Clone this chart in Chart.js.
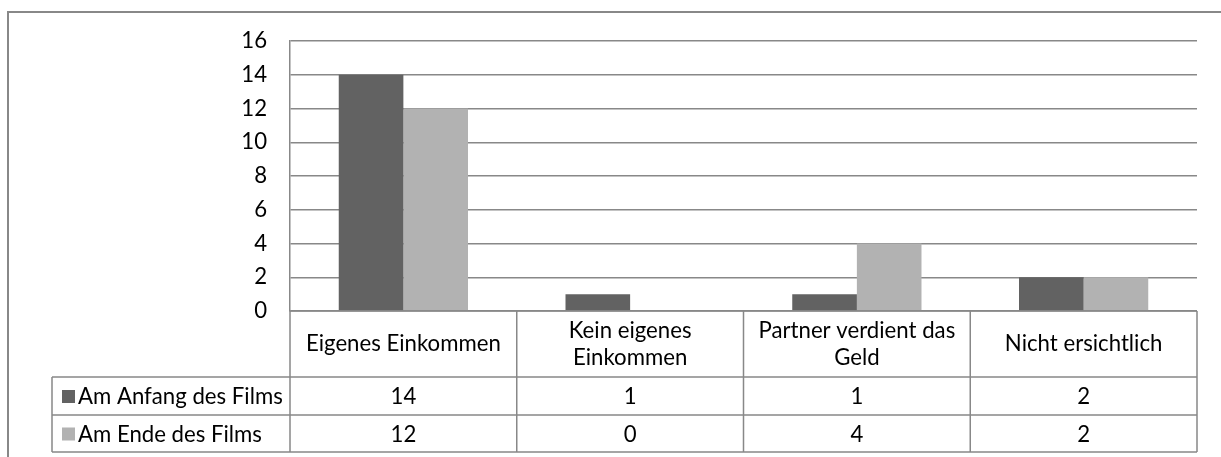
<!DOCTYPE html>
<html>
<head>
<meta charset="utf-8">
<script src="https://cdn.jsdelivr.net/npm/chart.js@4"></script>
<style>
  html, body { margin: 0; padding: 0; background: #ffffff; }
  #wrap { width: 1221px; height: 457px; position: relative; }
</style>
</head>
<body>
<div id="wrap"><canvas id="c" width="1221" height="457"></canvas></div>
<script>
// ---- data ----
const categories = [
  ["Eigenes Einkommen"],
  ["Kein eigenes", "Einkommen"],
  ["Partner verdient das", "Geld"],
  ["Nicht ersichtlich"]
];
const seriesNames = ["Am Anfang des Films", "Am Ende des Films"];
const anfangValues = [14, 1, 1, 2];
const endeValues = [12, 0, 4, 2];
const yTickValues = [0, 2, 4, 6, 8, 10, 12, 14, 16];

// ---- styles ----
const FONT_FAMILY = "Lato, 'Open Sans', sans-serif";
const colors = ["#626262", "#b2b2b2"];
const lineColor = "#888888";

// fit font size so text width resembles the original
const mctx = document.createElement('canvas').getContext('2d');
mctx.font = "20px " + FONT_FAMILY;
const FS = Math.round(20 * 195 / mctx.measureText("Eigenes Einkommen").width * 10) / 10;

const seriesValues = [anfangValues, endeValues];

const tablePlugin = {
  id: 'dataTable',
  afterDraw(chart) {
    const ctx = chart.ctx;
    const area = chart.chartArea;
    const n = categories.length;
    const catW = (area.right - area.left) / n;
    const headTop = area.bottom;
    const headBot = headTop + 66;
    const rowBots = [headBot + 38, headBot + 75];
    const legLeft = 52;
    ctx.save();
    // outer chart border
    ctx.strokeStyle = lineColor;
    ctx.lineWidth = 2;
    ctx.beginPath();
    ctx.moveTo(8, 460); ctx.lineTo(8, 12); ctx.lineTo(1225, 12);
    ctx.stroke();

    ctx.lineWidth = 1.5;
    ctx.beginPath();
    ctx.moveTo(area.left, headTop); ctx.lineTo(area.right, headTop);
    ctx.moveTo(legLeft, headBot); ctx.lineTo(area.right, headBot);
    rowBots.forEach(y => { ctx.moveTo(legLeft, y); ctx.lineTo(area.right, y); });
    for (let i = 0; i <= n; i++) {
      const x = area.left + i * catW;
      ctx.moveTo(x, headTop); ctx.lineTo(x, rowBots[1]);
    }
    ctx.moveTo(legLeft, headBot); ctx.lineTo(legLeft, rowBots[1]);
    ctx.stroke();

    ctx.fillStyle = "#000";
    ctx.font = FS + "px " + FONT_FAMILY;
    ctx.textAlign = "center";
    ctx.textBaseline = "middle";
    const headMid = (headTop + headBot) / 2;
    const lh = 27;
    categories.forEach((lines, i) => {
      const cx = area.left + (i + 0.5) * catW;
      lines.forEach((t, j) => {
        const y = headMid + (j - (lines.length - 1) / 2) * lh;
        ctx.fillText(t, cx, y);
      });
    });
    const rowTops = [headBot, rowBots[0]];
    seriesValues.forEach((vals, r) => {
      const cy = (rowTops[r] + rowBots[r]) / 2 + 1;
      vals.forEach((v, i) => {
        ctx.fillText(String(v), area.left + (i + 0.5) * catW, cy);
      });
      ctx.fillStyle = colors[r];
      ctx.fillRect(62, cy - 7, 13, 13);
      ctx.fillStyle = "#000";
      ctx.textAlign = "left";
      ctx.fillText(seriesNames[r], 78, cy);
      ctx.textAlign = "center";
    });
    ctx.restore();
  }
};

new Chart(document.getElementById('c'), {
  type: 'bar',
  data: {
    labels: categories,
    datasets: seriesNames.map((name, i) => ({
      label: name,
      data: seriesValues[i],
      backgroundColor: colors[i],
      borderWidth: 0,
      categoryPercentage: 0.57,
      barPercentage: 1.0
    }))
  },
  options: {
    responsive: false,
    animation: false,
    devicePixelRatio: 1,
    layout: { padding: { left: 0, top: 41, right: 24, bottom: 146 } },
    plugins: { legend: { display: false }, tooltip: { enabled: false } },
    scales: {
      x: { display: false },
      y: {
        min: yTickValues[0],
        max: yTickValues[yTickValues.length - 1],
        afterBuildTicks(scale) { scale.ticks = yTickValues.map(v => ({ value: v })); },
        afterFit(scale) { scale.width = 290; },
        ticks: {
          color: "#000",
          padding: 23,
          font: { family: FONT_FAMILY, size: FS }
        },
        grid: { color: lineColor, lineWidth: 1.5, drawTicks: false },
        border: { display: true, color: lineColor, width: 1.5 }
      }
    }
  },
  plugins: [tablePlugin]
});
</script>
</body>
</html>
